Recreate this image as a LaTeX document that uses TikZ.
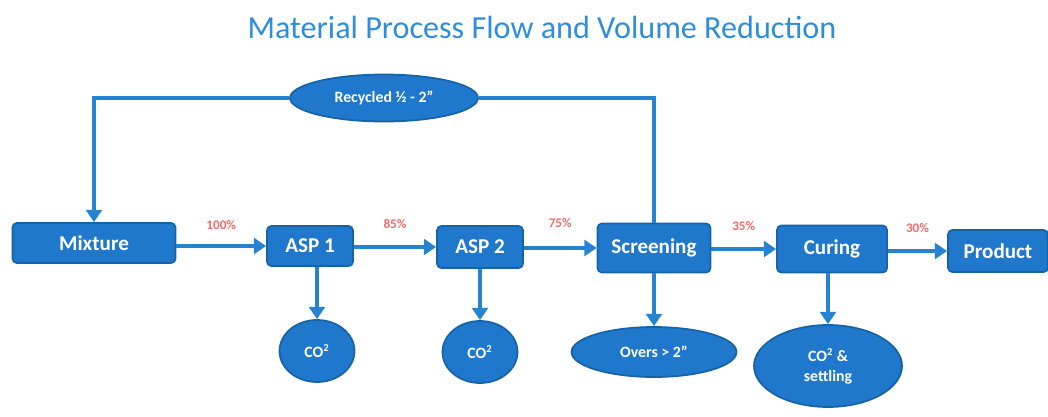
\documentclass[tikz,border=0pt]{standalone}
\usepackage{fontspec}
\setmainfont{Carlito}
\usetikzlibrary{arrows.meta}
\definecolor{boxblue}{HTML}{1F78CC}
\definecolor{edgeblue}{HTML}{1763A8}
\definecolor{lineblue}{HTML}{2683D2}
\definecolor{titleblue}{HTML}{2E8EDB}
\definecolor{pctred}{HTML}{F26B6B}
\tikzset{
  stage/.style={draw=edgeblue, line width=1pt, fill=boxblue, rounded corners=2.5pt,
    text=white, font=\bfseries\fontsize{12}{14}\selectfont, inner sep=0pt},
  blob/.style={draw=edgeblue, line width=1pt, fill=boxblue, ellipse, text=white,
    font=\bfseries\fontsize{9}{11}\selectfont, inner sep=0pt, align=center},
  flow/.style={draw=lineblue, line width=2.4pt},
  flowarr/.style={flow, -{Triangle[length=7pt,width=9pt]}},
  pct/.style={text=pctred, font=\bfseries\fontsize{7.5}{9}\selectfont}
}
\usetikzlibrary{shapes.geometric}

\begin{document}
\begin{tikzpicture}[x=0.02cm,y=-0.02cm]
\useasboundingbox (0,0) rectangle (1048,416);

% title
\node[text=titleblue, font=\fontsize{18.3}{21}\selectfont] (title) at (542,27) {Material Process Flow and Volume Reduction};

% main line of stages
\node[stage, minimum width=3.26cm, minimum height=0.8cm] (mix) at (94,243) {Mixture};
\node[stage, minimum width=1.72cm, minimum height=0.8cm] (asp1) at (310,246) {ASP 1};
\node[stage, minimum width=1.72cm, minimum height=0.84cm] (asp2) at (480,247) {ASP 2};
\node[stage, minimum width=2.26cm, minimum height=0.98cm] (scr) at (654,248) {Screening};
\node[stage, minimum width=2.2cm, minimum height=0.94cm] (cure) at (832,249) {Curing};
\node[stage, minimum width=2.0cm, minimum height=0.84cm] (prod) at (998,251) {Product};

% recycle loop
\node[blob, minimum width=3.76cm, minimum height=0.94cm] (recyc) at (384,98) {Recycled ½ - 2”};
\draw[flow] (scr.north) |- (recyc.east);
\draw[flowarr] (recyc.west) -| (mix.north);

% outputs
\node[blob, minimum width=1.5cm, minimum height=1.24cm] (co1) at (317,351) {CO\textsuperscript{2}};
\node[blob, minimum width=1.5cm, minimum height=1.24cm] (co2) at (480,352) {CO\textsuperscript{2}};
\node[blob, minimum width=3.3cm, minimum height=1.0cm] (overs) at (654,352) {Overs > 2”};
\node[blob, minimum width=2.96cm, minimum height=1.64cm] (settle) at (828,366) {CO\textsuperscript{2} \&\\settling};

\draw[flowarr] (asp1.south -| co1) -- (co1.north);
\draw[flowarr] (asp2.south -| co2) -- (co2.north);
\draw[flowarr] (scr.south -| overs) -- (overs.north);
\draw[flowarr] (cure.south -| settle) -- (settle.north);

% forward flow with percentages
\draw[flowarr] (mix.east |- asp1) -- (asp1.west) node[pct, midway, above=5pt] (p1) {100\%};
\draw[flowarr] (asp1.east |- asp2) -- (asp2.west) node[pct, midway, above=6pt] (p2) {85\%};
\draw[flowarr] (asp2.east |- scr) -- (scr.west) node[pct, midway, above=7pt] (p3) {75\%};
\draw[flowarr] (scr.east |- cure) -- (cure.west) node[pct, midway, above=6pt] (p4) {35\%};
\draw[flowarr] (cure.east |- prod) -- (prod.west) node[pct, midway, above=6pt] (p5) {30\%};

\end{tikzpicture}
\end{document}
